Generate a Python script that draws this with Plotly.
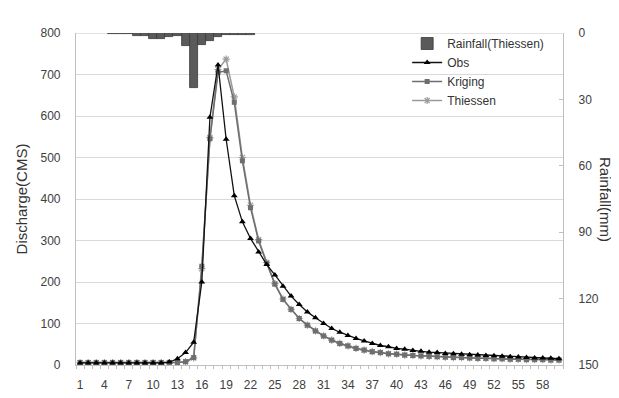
import plotly.graph_objects as go

time_steps = list(range(1, 61))

obs = [5, 5, 5, 5, 5, 5, 5, 5, 5, 5, 5, 7, 15, 30, 55, 200, 597, 723, 544, 408,
       345, 305, 272, 242, 217, 190, 166, 146, 128, 114, 100, 88, 79, 71, 64, 58, 52, 47, 44, 40,
       38, 35, 33, 31, 30, 28, 27, 26, 25, 24, 23, 22, 21, 20, 19, 18, 17, 17, 16, 15]

kriging = [6, 6, 6, 6, 6, 6, 6, 6, 6, 6, 6, 6, 6, 8, 18, 238, 545, 705, 709, 633,
           492, 379, 299, 245, 195, 158, 134, 112, 96, 82, 70, 60, 52, 46, 40, 36, 32, 30, 27, 26,
           24, 23, 22, 21, 20, 19, 18, 18, 17, 16, 16, 15, 15, 14, 14, 13, 13, 13, 12, 12]

thiessen = [6, 6, 6, 6, 6, 6, 6, 6, 6, 6, 6, 6, 6, 8, 17, 232, 548, 712, 737, 646,
            500, 385, 302, 247, 196, 159, 134, 112, 96, 82, 70, 60, 52, 46, 40, 36, 32, 30, 27, 26,
            24, 23, 22, 21, 20, 19, 18, 18, 17, 16, 16, 15, 15, 14, 14, 13, 13, 13, 12, 12]

rainfall = [0, 0, 0, 0, 0.3, 0.3, 0.3, 1.3, 1.3, 2.9, 2.9, 1.7, 1.3, 5.8, 25, 5.3, 3.5, 1.9, 0.8, 0.8,
            0.8, 0.8] + [0] * 38

x_tick_vals = list(range(1, 61, 3))
left_ticks = [0, 100, 200, 300, 400, 500, 600, 700, 800]
right_ticks = [0, 30, 60, 90, 120, 150]

FONT = "Liberation Sans, Arial, sans-serif"
TXT = "#404040"

fig = go.Figure()

fig.add_trace(go.Bar(
    x=time_steps, y=rainfall, name="Rainfall(Thiessen)", yaxis="y2",
    marker=dict(color="#5a5a5a", line=dict(color="#3a3a3a", width=0.8)),
    legendrank=1,
))
fig.add_trace(go.Scatter(
    x=time_steps, y=thiessen, name="Thiessen", mode="lines+markers",
    line=dict(color="#9a9a9a", width=1.5),
    marker=dict(symbol="asterisk-open", size=6, color="#9a9a9a", line=dict(color="#9a9a9a", width=1.2)),
    legendrank=4,
))
fig.add_trace(go.Scatter(
    x=time_steps, y=kriging, name="Kriging", mode="lines+markers",
    line=dict(color="#6e6e6e", width=1.5),
    marker=dict(symbol="square", size=5, color="#6e6e6e"),
    legendrank=3,
))
fig.add_trace(go.Scatter(
    x=time_steps, y=obs, name="Obs", mode="lines+markers",
    line=dict(color="#111111", width=1.3),
    marker=dict(symbol="triangle-up", size=6, color="#000000"),
    legendrank=2,
))

fig.update_layout(
    width=611, height=390,
    margin=dict(l=68, r=56, t=25, b=33, autoexpand=False),
    paper_bgcolor="white", plot_bgcolor="white",
    font=dict(family=FONT, size=12, color=TXT),
    bargap=0,
    showlegend=True,
    legend=dict(x=0.68, y=1.012, xanchor="left", yanchor="top",
                bgcolor="rgba(255,255,255,0)", font=dict(size=12, color="#333333"),
                tracegroupgap=0, itemwidth=30),
    xaxis=dict(
        range=[0.5, 60.5], tickmode="array", tickvals=x_tick_vals,
        ticktext=[str(v) for v in x_tick_vals], ticks="",
        showgrid=False, zeroline=False, automargin=False,
        showline=True, linecolor="#bfbfbf", linewidth=1.2,
        ticklabelstandoff=8,
        minor=dict(tick0=0.5, dtick=1, ticks="outside", ticklen=3, tickcolor="#bfbfbf", showgrid=False),
        tickfont=dict(size=12, color=TXT),
    ),
    yaxis=dict(
        range=[0, 800], tickvals=left_ticks, ticks="", automargin=False,
        showgrid=True, gridcolor="#d9d9d9", gridwidth=1,
        zeroline=False, showline=True, linecolor="#bfbfbf", linewidth=1.2,
        ticklabelstandoff=12,
        tickfont=dict(size=12, color=TXT),
        title=dict(text="Discharge(CMS)", font=dict(size=15, color="#333333"), standoff=9),
    ),
    yaxis2=dict(
        range=[150, 0], overlaying="y", side="right", tickvals=right_ticks,
        ticks="inside", ticklen=4, tickcolor="#bfbfbf", automargin=False,
        showgrid=False, zeroline=False, showline=True, linecolor="#bfbfbf", linewidth=1.2,
        ticklabelstandoff=12,
        tickfont=dict(size=12, color=TXT),
    ),
    annotations=[dict(
        text="Rainfall(mm)", textangle=90, xref="paper", yref="paper",
        x=1.0, y=0.5, xshift=43, xanchor="center", yanchor="middle", showarrow=False,
        font=dict(size=15, color="#333333"),
    )],
)

fig.write_html("out.html")
